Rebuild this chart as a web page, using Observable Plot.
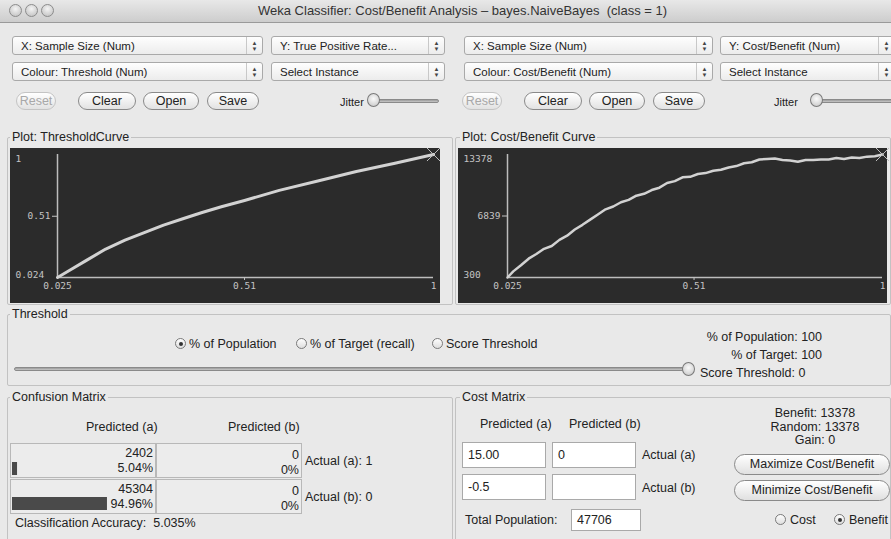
<!DOCTYPE html>
<html><head><meta charset="utf-8">
<script src="https://cdn.jsdelivr.net/npm/d3@7"></script>
<script src="https://cdn.jsdelivr.net/npm/@observablehq/plot@0.6"></script>
<style>
html,body{margin:0;padding:0;}
body{width:891px;height:539px;overflow:hidden;background:#e9e9e9;font-family:"Lucida Grande","Liberation Sans",Arial,sans-serif;font-size:12.5px;color:#222;}
#win{position:relative;width:891px;height:539px;}
.abs{position:absolute;white-space:nowrap;}
.titlebar{left:0;top:0;width:891px;height:22px;background:linear-gradient(#e8e8e8,#cdcdcd);border-bottom:1px solid #9a9a9a;}
.light{width:11px;height:11px;border-radius:50%;border:1px solid #8c8c8c;background:radial-gradient(circle at 50% 35%,#f4f4f4,#bcbcbc);top:4px;}
.combo{height:19px;border:1px solid #a9a9a9;border-radius:3px;background:linear-gradient(#fefefe,#ececec);line-height:19px;padding-left:8px;box-sizing:border-box;overflow:hidden;font-size:11.5px;}
.combo .arr{position:absolute;right:0;top:0;width:16px;height:100%;border-left:1px solid #c8c8c8;font-size:6px;line-height:6px;text-align:center;padding-top:3px;box-sizing:border-box;color:#444;}
.btn{height:18px;border:1px solid #8a8a8a;border-radius:10px;background:linear-gradient(#ffffff,#e2e2e2);line-height:17px;text-align:center;box-sizing:border-box;}
.dis{color:#a8a8a8;border-color:#c4c4c4;}
.group{border:1px solid #c2c2c2;border-radius:2px;box-sizing:border-box;}
.glabel{background:#e9e9e9;padding:0 2px;line-height:14px;}
.track{height:4px;border-radius:2px;background:linear-gradient(#9a9a9a,#c8c8c8);border:1px solid #8a8a8a;}
.knob{width:11px;height:12px;border-radius:50%;border:1px solid #7a7a7a;background:radial-gradient(circle at 50% 40%,#fafafa,#c4c4c4);}
.radio{width:11px;height:11px;border-radius:50%;border:1px solid #7a7a7a;background:linear-gradient(#fefefe,#dedede);box-sizing:border-box;}
.radio.on::after{content:"";position:absolute;left:2.5px;top:2.5px;width:4px;height:4px;border-radius:50%;background:#333;}
.cell{border:1px solid #b8b8b8;background:#ececec;box-sizing:border-box;}
.input{border:1px solid #a9a9a9;background:#fff;box-sizing:border-box;padding-left:5px;line-height:24px;}
.pbtn{border:1px solid #8a8a8a;border-radius:11px;background:linear-gradient(#ffffff,#e0e0e0);text-align:center;box-sizing:border-box;line-height:19px;height:21px;}
.plot{position:absolute;}
</style></head>
<body><div id="win"></div>
<script>
// ---------------- data ----------------
const thresholdSampleSize = [0.025,0.06,0.1,0.15,0.2,0.25,0.3,0.35,0.4,0.45,0.51,0.6,0.7,0.8,0.9,1];
const thresholdTPR       = [0.024,0.087,0.16,0.25,0.32,0.38,0.44,0.49,0.54,0.585,0.635,0.715,0.79,0.865,0.93,1];
const thresholdXTicks = [0.025,0.51,1];
const thresholdYTicks = [0.024,0.51,1];

const costSampleSize = [0.025,0.04,0.06,0.08,0.1,0.12,0.14,0.16,0.18,0.2,0.22,0.24,0.26,0.28,0.3,0.32,0.34,0.36,0.38,0.4,0.42,0.44,0.46,0.48,0.5,0.52,0.54,0.56,0.58,0.6,0.62,0.64,0.66,0.68,0.7,0.72,0.74,0.76,0.78,0.8,0.82,0.84,0.86,0.88,0.9,0.92,0.94,0.96,0.98,1];
const costBenefit    = [300,950,1600,2300,2800,3350,3650,4300,4750,5400,5900,6450,7000,7550,7850,8300,8550,9000,9200,9600,9850,10350,10550,10950,11000,11300,11400,11650,11750,12000,12150,12450,12550,12850,12900,12950,12800,12750,12600,12800,12800,12850,12850,13000,12900,13050,13000,13150,13200,13378];
const costXTicks = [0.025,0.51,1];
const costYTicks = [300,6839,13378];

const confusionRows = ["Actual (a): 1","Actual (b): 0"];
const confusionCounts = [[2402,0],[45304,0]];
const confusionPct = [[5.04,0],[94.96,0]];

// ---------------- GUI helpers ----------------
const win = document.getElementById("win");
function el(cls, x, y, w, h, html, extra){
  const d = document.createElement("div");
  d.className = "abs " + (cls||"");
  d.style.left = x+"px"; d.style.top = y+"px";
  if (w!=null) d.style.width = w+"px";
  if (h!=null) d.style.height = h+"px";
  if (html!=null) d.innerHTML = html;
  if (extra) Object.assign(d.style, extra);
  win.appendChild(d); return d;
}
function text(x,y,s,extra){ return el("",x,y,null,null,s,Object.assign({lineHeight:"14px"},extra||{})); }
function combo(x,y,w,label){ const d=el("combo",x,y,w,null,label); const a=document.createElement("div"); a.className="arr"; a.innerHTML="▲<br>▼"; d.appendChild(a); }

// title bar
el("titlebar",0,0,891,22);
el("light",9,4); el("light",25,4); el("light",41,4);
text(258,4,"Weka Classifier: Cost/Benefit Analysis – bayes.NaiveBayes&nbsp; (class = 1)",{color:"#333",fontSize:"13px"});

// dropdowns
combo(12,36,251,"X: Sample Size (Num)");
combo(271,36,174,"Y: True Positive Rate...");
combo(464,36,249,"X: Sample Size (Num)");
combo(720,36,175,"Y: Cost/Benefit (Num)");
combo(12,62,251,"Colour: Threshold (Num)");
combo(271,62,174,"Select Instance");
combo(464,62,249,"Colour: Cost/Benefit (Num)");
combo(720,62,175,"Select Instance");

// buttons row
function btnRow(x0, jx, kx, tw){
  el("btn dis",x0+4,92,40,null,"Reset");
  el("btn",x0+66,92,58,null,"Clear");
  el("btn",x0+131,92,56,null,"Open");
  el("btn",x0+195,92,52,null,"Save");
  text(jx,95,"Jitter",{fontSize:"11px"});
  el("track",kx+5,99,tw,2);
  el("knob",kx,93);
}
btnRow(12,340,367,65);
btnRow(458,774,810,76);

// plot groups
el("group",7,137,446,168);
el("glabel",10,130,null,null,"Plot: ThresholdCurve");
el("group",455,137,436,168);
el("glabel",460,130,null,null,"Plot: Cost/Benefit Curve");

// threshold group
el("group",7,314,884,72);
el("glabel",10,307,null,null,"Threshold");
el("radio on",175,338,null,null,null,{width:"11px",height:"11px"});
text(189,337,"% of Population");
el("radio",296,338,null,null,null,{width:"11px",height:"11px"});
text(310,337,"% of Target (recall)");
el("radio",432,338,null,null,null,{width:"11px",height:"11px"});
text(446,337,"Score Threshold");
el("track",14,367,668,2);
el("knob",682,362);
text(690,330,"% of Population: 100",{width:"132px",textAlign:"right"});
text(690,348,"% of Target: 100",{width:"132px",textAlign:"right"});
text(700,366,"Score Threshold: 0");

// confusion matrix group
el("group",7,397,446,150);
el("glabel",10,390,null,null,"Confusion Matrix");
text(86,420,"Predicted (a)");
text(228,420,"Predicted (b)");
for (let r=0;r<2;r++){
  const y = 443 + r*36;
  el("cell",10,y,146,35);
  el("cell",156,y,146,35);
  text(10,y+3,String(confusionCounts[r][0]),{width:"143px",textAlign:"right"});
  text(10,y+18,confusionPct[r][0].toFixed(2)+"%",{width:"143px",textAlign:"right"});
  text(156,y+5,String(confusionCounts[r][1]),{width:"143px",textAlign:"right"});
  text(156,y+20,confusionPct[r][1]+"%",{width:"143px",textAlign:"right"});
  text(305,y+11,confusionRows[r]);
}
text(15,516,"Classification Accuracy:&nbsp; 5.035%");

// cost matrix group
el("group",455,397,436,150);
el("glabel",460,390,null,null,"Cost Matrix");
text(480,417,"Predicted (a)");
text(569,417,"Predicted (b)");
el("input",462,442,84,26,"15.00");
el("input",552,442,84,26,"0");
text(642,448,"Actual (a)");
el("input",462,474,84,26,"-0.5");
el("input",552,474,84,26,"");
text(642,481,"Actual (b)");
text(465,513,"Total Population:");
el("input",571,509,70,22,"47706",{lineHeight:"20px"});
text(740,406,"Benefit: 13378",{width:"150px",textAlign:"center"});
text(740,420,"Random: 13378",{width:"150px",textAlign:"center"});
text(740,433,"Gain: 0",{width:"150px",textAlign:"center"});
el("pbtn",734,454,156,null,"Maximize Cost/Benefit");
el("pbtn",734,480,156,null,"Minimize Cost/Benefit");
el("radio",775,514,null,null,null,{width:"11px",height:"11px"});
text(790,513,"Cost");
el("radio on",834,514,null,null,null,{width:"11px",height:"11px"});
text(849,513,"Benefit");

// ---------------- plots ----------------
const bg = "#2b2b2b", fg = "#c4c4c4";
function curvePlot(xs, ys, xTicks, yTicks, opts){
  const data = xs.map((x,i)=>({x, y: ys[i]}));
  const last = data[data.length-1];
  const fmt = d => String(d);
  return Plot.plot({
    width: opts.width, height: 155,
    marginLeft: opts.ml, marginRight: opts.mr, marginTop: 6, marginBottom: 26,
    x: {domain: [xTicks[0], xTicks[2]], axis: null},
    y: {domain: [yTicks[0], yTicks[2]], axis: null},
    style: {background: bg, color: fg, fontFamily: "'DejaVu Sans Mono', monospace", fontSize: "9.5px", overflow: "visible"},
    marks: [
      Plot.ruleX([xTicks[0]], {stroke: "#bdbdbd", strokeWidth: 1.5}),
      Plot.ruleY([yTicks[0]], {stroke: "#bdbdbd", strokeWidth: 1.5}),
      Plot.line(data, {x: "x", y: "y", stroke: "#d2d2d2", strokeWidth: opts.sw, curve: "linear"}),
      Plot.dot([last], {x: "x", y: "y", symbol: "times", r: 6, stroke: "#bdbdbd", strokeWidth: 1}),
      Plot.axisY([yTicks[2]], {label: null, tickSize: 0, tickPadding: 0, textAnchor: "start", dx: -(opts.ml-5), dy: 4, tickFormat: fmt, fill: fg}),
      Plot.axisY([yTicks[1]], {label: null, tickSize: 5, tickPadding: 2, stroke: fg, tickFormat: fmt, fill: fg}),
      Plot.axisY([yTicks[0]], {label: null, tickSize: 0, tickPadding: 0, textAnchor: "start", dx: -(opts.ml-5), dy: -3, tickFormat: fmt, fill: fg}),
      Plot.axisX([xTicks[0], xTicks[2]], {label: null, tickSize: 0, tickPadding: 5, tickFormat: fmt, fill: fg}),
      Plot.axisX([xTicks[1]], {label: null, tickSize: 3, tickPadding: 2, stroke: fg, tickFormat: fmt, fill: fg})
    ]
  });
}
const p1 = curvePlot(thresholdSampleSize, thresholdTPR, thresholdXTicks, thresholdYTicks, {width: 430, ml: 47, mr: 7, sw: 3});
p1.classList.add("plot"); p1.style.left = "10px"; p1.style.top = "148px";
win.appendChild(p1);
const p2 = curvePlot(costSampleSize, costBenefit, costXTicks, costYTicks, {width: 429, ml: 49, mr: 5, sw: 2.5});
p2.classList.add("plot"); p2.style.left = "458px"; p2.style.top = "148px";
win.appendChild(p2);

// confusion matrix bars (bar length in px equals the percentage)
const barData = confusionRows.map((r,i)=>({row: r, pct: confusionPct[i][0]}));
const p3 = Plot.plot({
  width: 144, height: 70, margin: 0,
  x: {domain: [0, 144], range: [2, 146], axis: null},
  y: {domain: confusionRows, axis: null, padding: 0},
  style: {background: "transparent", overflow: "visible"},
  marks: [Plot.barX(barData, {x: "pct", y: "row", fill: "#4a4a4a", insetTop: 19, insetBottom: 3})]
});
p3.classList.add("plot"); p3.style.left = "10px"; p3.style.top = "443px";
win.appendChild(p3);
</script>
</body></html>
